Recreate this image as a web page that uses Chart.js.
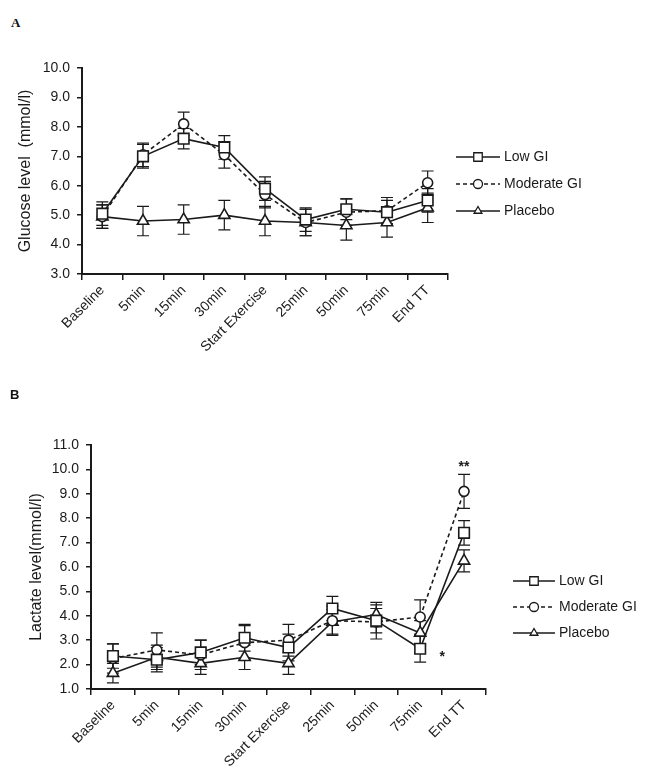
<!DOCTYPE html>
<html>
<head>
<meta charset="utf-8">
<script src="https://cdn.jsdelivr.net/npm/chart.js@4.4.1/dist/chart.umd.min.js"></script>
<style>
  body { margin: 0; background: #fff; }
  #wrap { position: relative; width: 652px; height: 778px; }
  .panel { position: absolute; left: 0; width: 652px; }
  .tag { position: absolute; font-weight: bold; color: #111; }
</style>
</head>
<body>
<div id="wrap">
  <div class="tag" style="left:11px;top:15px;font-family:'Liberation Serif',serif;font-size:13px;">A</div>
  <div class="panel" style="top:0;height:390px;"><canvas id="glucose" width="652" height="390"></canvas></div>
  <div class="tag" style="left:10px;top:387px;font-family:'Liberation Sans',Arial,sans-serif;font-size:13px;">B</div>
  <div class="panel" style="top:390px;height:388px;"><canvas id="lactate" width="652" height="388"></canvas></div>
</div>
<script>
const timepoints = ['Baseline', '5min', '15min', '30min', 'Start Exercise', '25min', '50min', '75min', 'End TT'];
const seriesNames = ['Low GI', 'Moderate GI', 'Placebo'];

// glucose (mmol/l), mean and error
const glucoseLow = [5.05, 7.0, 7.6, 7.3, 5.9, 4.85, 5.2, 5.1, 5.5];
const glucoseModerate = [4.95, 7.05, 8.1, 7.05, 5.7, 4.75, 5.1, 5.15, 6.1];
const glucosePlacebo = [4.95, 4.8, 4.85, 5.0, 4.8, 4.75, 4.65, 4.75, 5.25];
const glucoseLowErr = [0.4, 0.4, 0.35, 0.4, 0.4, 0.4, 0.35, 0.4, 0.4];
const glucoseModerateErr = [0.4, 0.4, 0.4, 0.45, 0.45, 0.45, 0.45, 0.45, 0.4];
const glucosePlaceboErr = [0.4, 0.5, 0.5, 0.5, 0.5, 0.45, 0.5, 0.5, 0.5];
const glucoseTicks = [3, 4, 5, 6, 7, 8, 9, 10];

// lactate (mmol/l), mean and error
const lactateLow = [2.35, 2.2, 2.5, 3.1, 2.7, 4.3, 3.8, 2.65, 7.4];
const lactateModerate = [2.25, 2.6, 2.4, 2.9, 3.0, 3.8, 3.75, 3.95, 9.1];
const lactatePlacebo = [1.65, 2.3, 2.05, 2.3, 2.05, 3.75, 4.05, 3.3, 6.25];
const lactateLowErr = [0.5, 0.5, 0.5, 0.55, 0.55, 0.5, 0.5, 0.55, 0.5];
const lactateModerateErr = [0.6, 0.7, 0.6, 0.7, 0.65, 0.6, 0.7, 0.7, 0.7];
const lactatePlaceboErr = [0.4, 0.5, 0.45, 0.5, 0.45, 0.5, 0.5, 0.5, 0.45];
const lactateTicks = [1, 2, 3, 4, 5, 6, 7, 8, 9, 10, 11];

// significance marks on the lactate panel
const starText = ['**', '*'];
const starIndex = [8, 7.5];
const starValue = [10.1, 2.3];

const FONT = "'Liberation Sans', Arial, sans-serif";
const INK = '#1a1a1a';

function makeSets(low, mod, pla, lowErr, modErr, plaErr) {
  const base = {
    borderColor: INK,
    borderWidth: 1.6,
    pointBackgroundColor: '#fff',
    pointBorderColor: INK,
    pointBorderWidth: 1.6,
    tension: 0,
    fill: false,
  };
  return [
    { ...base, label: seriesNames[0], data: low, err: lowErr, pointStyle: 'rect', pointRadius: 7.5 },
    { ...base, label: seriesNames[1], data: mod, err: modErr, pointStyle: 'circle', borderDash: [4, 3], pointRadius: 5 },
    { ...base, label: seriesNames[2], data: pla, err: plaErr, pointStyle: 'triangle', pointRadius: 6.5 },
  ];
}

// vertical error bars from each dataset's err array
const errorBars = {
  id: 'errorBars',
  beforeDatasetsDraw(chart) {
    const ctx = chart.ctx;
    const y = chart.scales.y;
    ctx.save();
    ctx.strokeStyle = INK;
    ctx.lineWidth = 1.2;
    chart.data.datasets.forEach((ds, di) => {
      const meta = chart.getDatasetMeta(di);
      meta.data.forEach((pt, i) => {
        const top = y.getPixelForValue(ds.data[i] + ds.err[i]);
        const bot = y.getPixelForValue(ds.data[i] - ds.err[i]);
        ctx.beginPath();
        ctx.moveTo(pt.x, top); ctx.lineTo(pt.x, bot);
        ctx.moveTo(pt.x - 6, top); ctx.lineTo(pt.x + 6, top);
        ctx.moveTo(pt.x - 6, bot); ctx.lineTo(pt.x + 6, bot);
        ctx.stroke();
      });
    });
    ctx.restore();
  }
};

// legend drawn as line + marker + text, to the right of the plot
const sideLegend = {
  id: 'sideLegend',
  afterDraw(chart, args, opts) {
    const ctx = chart.ctx;
    const a = chart.chartArea;
    const x0 = a.right + opts.dx;
    ctx.save();
    chart.data.datasets.forEach((ds, i) => {
      const yy = a.top + opts.dy + i * opts.gap;
      ctx.strokeStyle = INK;
      ctx.lineWidth = 1.5;
      ctx.setLineDash(ds.borderDash || []);
      ctx.beginPath();
      ctx.moveTo(x0, yy); ctx.lineTo(x0 + opts.len, yy);
      ctx.stroke();
      ctx.setLineDash([]);
      ctx.fillStyle = '#fff';
      ctx.lineWidth = 1.3;
      Chart.helpers.drawPoint(ctx, {
        pointStyle: ds.pointStyle, radius: ds.pointStyle === 'rect' ? 6 : 4.5, borderWidth: 1.3
      }, x0 + opts.len / 2, yy);
      ctx.fillStyle = INK;
      ctx.font = '14px ' + FONT;
      ctx.textBaseline = 'middle';
      ctx.fillText(ds.label, x0 + opts.len + 4, yy);
    });
    ctx.restore();
  }
};

const stars = {
  id: 'stars',
  afterDraw(chart, args, opts) {
    if (!opts.show) return;
    const ctx = chart.ctx;
    ctx.save();
    ctx.fillStyle = INK;
    ctx.font = 'bold 14px ' + FONT;
    ctx.textAlign = 'center';
    ctx.textBaseline = 'middle';
    starText.forEach((t, i) => {
      ctx.fillText(t, chart.scales.x.getPixelForValue(starIndex[i]), chart.scales.y.getPixelForValue(starValue[i]));
    });
    ctx.restore();
  }
};

function makeOptions(cfg) {
  return {
    responsive: false,
    animation: false,
    layout: { padding: cfg.padding },
    plugins: {
      legend: { display: false },
      tooltip: { enabled: false },
      sideLegend: cfg.legend,
      stars: { show: cfg.stars },
    },
    scales: {
      x: {
        type: 'category',
        offset: true,
        grid: { display: true, offset: true, drawOnChartArea: false, drawTicks: true, tickLength: 6, color: INK, lineWidth: 1.5 },
        border: { color: INK, width: 2 },
        ticks: { color: INK, font: { family: FONT, size: 14 }, minRotation: 45, maxRotation: 45, autoSkip: false, padding: 2 },
        afterFit(s) { s.height = cfg.xHeight; },
      },
      y: {
        min: cfg.ticks[0],
        max: cfg.ticks[cfg.ticks.length - 1],
        afterBuildTicks(s) { s.ticks = cfg.ticks.map(v => ({ value: v })); },
        grid: { display: true, drawOnChartArea: false, drawTicks: true, tickLength: 5, color: INK, lineWidth: 1.5 },
        border: { color: INK, width: 2 },
        ticks: { color: INK, font: { family: FONT, size: 14 }, padding: 7, callback: v => Number(v).toFixed(1) },
        title: { display: true, text: cfg.title, color: INK, font: { family: FONT, size: 16 }, padding: { top: 0, bottom: 2 } },
        afterFit(s) { s.width = cfg.yWidth; },
      },
    },
  };
}

new Chart(document.getElementById('glucose'), {
  type: 'line',
  data: { labels: timepoints, datasets: makeSets(glucoseLow, glucoseModerate, glucosePlacebo, glucoseLowErr, glucoseModerateErr, glucosePlaceboErr) },
  options: makeOptions({
    padding: { left: 16, top: 68, right: 204, bottom: 0 },
    yWidth: 66, xHeight: 116,
    ticks: glucoseTicks,
    title: 'Glucose level  (mmol/l)',
    legend: { dx: 8, dy: 89, gap: 27, len: 44 },
    stars: false,
  }),
  plugins: [errorBars, sideLegend, stars],
});

new Chart(document.getElementById('lactate'), {
  type: 'line',
  data: { labels: timepoints, datasets: makeSets(lactateLow, lactateModerate, lactatePlacebo, lactateLowErr, lactateModerateErr, lactatePlaceboErr) },
  options: makeOptions({
    padding: { left: 27, top: 55, right: 166, bottom: 0 },
    yWidth: 64, xHeight: 89,
    ticks: lactateTicks,
    title: 'Lactate level(mmol/l)',
    legend: { dx: 27, dy: 136, gap: 26, len: 42 },
    stars: true,
  }),
  plugins: [errorBars, sideLegend, stars],
});
</script>
</body>
</html>
